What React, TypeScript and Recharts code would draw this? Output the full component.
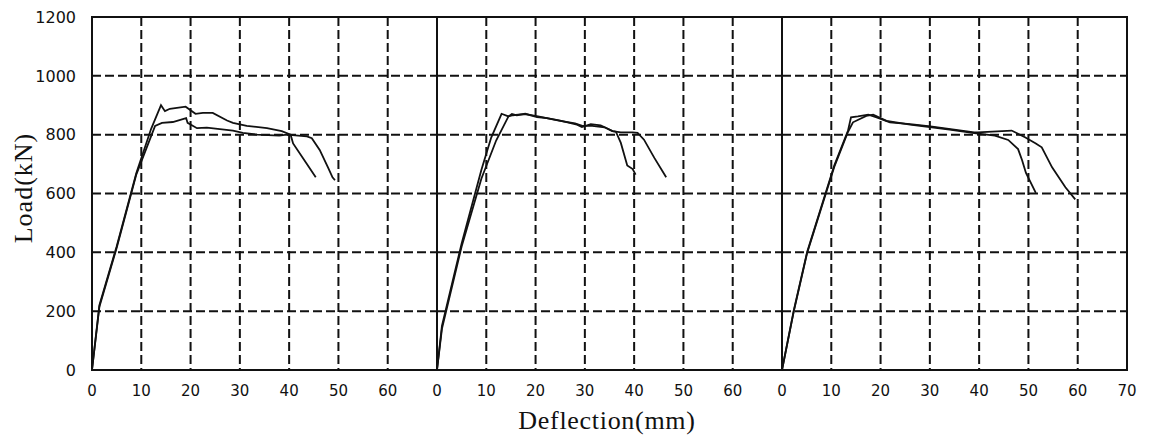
import { LineChart, Line, XAxis, YAxis, CartesianGrid, ReferenceArea } from 'recharts';

type Pt = [number, number];

// deflection (mm), load (kN)
const panel1Upper: Pt[] = [
  [0, 0], [1.5, 220], [5, 420], [9, 670], [12, 820], [14, 900], [14.8, 880], [15.8, 888],
  [19, 895], [21, 871], [22.5, 874], [24.5, 874], [27.4, 848], [28.6, 840], [31.4, 830],
  [35.5, 822], [38.5, 812], [40.3, 800], [40.8, 770], [43.6, 700], [45.4, 655],
];
const panel1Lower: Pt[] = [
  [0, 0], [1.5, 215], [5, 415], [9, 665], [12.8, 830], [14.2, 840], [16.4, 843], [19.1, 856],
  [19.4, 840], [21.3, 822], [23.3, 824], [28.6, 814], [30.6, 806], [33.5, 800], [38, 797],
  [39.5, 800], [43.6, 794], [44.6, 788], [46.2, 748], [47.9, 688], [48.8, 655], [49.3, 645],
];
const panel2Short: Pt[] = [
  [0, 0], [1, 150], [5, 430], [9, 680], [11, 790], [13.1, 871], [14.5, 862], [15.2, 870],
  [16.2, 866], [17.9, 871], [20.3, 860], [22.3, 856], [25, 848], [28.4, 834], [29.4, 826],
  [31.2, 836], [33.2, 832], [35.6, 812], [36.3, 810], [37.3, 772], [38.6, 695], [39.7, 683],
  [40.3, 664],
];
const panel2Long: Pt[] = [
  [0, 0], [1, 140], [5, 420], [9, 650], [12, 780], [14.5, 862], [15.4, 866], [16.5, 868],
  [18, 870], [20.5, 862], [22.5, 855], [25, 847], [28, 838], [29.5, 830], [31.5, 830],
  [34, 825], [35.6, 812], [37.3, 808], [39.7, 808], [40.7, 806], [42, 783], [44.1, 721],
  [46.5, 655],
];
const panel3Long: Pt[] = [
  [0, 0], [2.4, 203], [5.1, 401], [8.9, 604], [10.6, 695], [13.4, 814], [14, 859], [15.4, 862],
  [17.5, 868], [19.2, 859], [21.9, 842], [26, 836], [30.1, 828], [34.2, 819], [39, 808],
  [39.7, 808], [46.6, 814], [49.3, 791], [51.5, 770], [52.7, 757], [54.8, 689], [57.5, 621],
  [59.5, 580],
];
const panel3Short: Pt[] = [
  [0, 0], [2.4, 200], [5.1, 398], [8.9, 600], [10.6, 690], [13.4, 810], [14.4, 842], [17.1, 864],
  [18.5, 868], [21.2, 847], [26, 834], [30, 826], [34, 817], [39, 805], [43.2, 797], [45.9, 782],
  [47.9, 751], [48.7, 714], [49.5, 670], [51.5, 602],
];

const xTicks = [0, 10, 20, 30, 40, 50, 60];
const xTicksLast = [0, 10, 20, 30, 40, 50, 60, 70];
const yTicks = [0, 200, 400, 600, 800, 1000, 1200];

const INK = '#111';
const toRows = (pts: Pt[]) => pts.map(([x, y]) => ({ x, y }));

interface PanelProps {
  left: number;
  width: number;
  margin: { top: number; right: number; bottom: number; left: number };
  curves: Pt[][];
  ticks: number[];
  showY?: boolean;
}

function Panel({ left, width, margin, curves, ticks, showY }: PanelProps) {
  return (
    <div style={{ position: 'absolute', left, top: 0 }}>
      <LineChart width={width} height={445} margin={margin}>
        <CartesianGrid stroke={INK} strokeWidth={2} strokeDasharray="9 4" />
        <XAxis
          type="number"
          dataKey="x"
          domain={[0, 70]}
          ticks={ticks}
          height={30}
          axisLine={false}
          tickLine={false}
          tickSize={6}
          tickMargin={9}
          interval={0}
          tick={{ fill: '#111', fontSize: 15, fontFamily: 'DejaVu Sans' }}
        />
        <YAxis
          type="number"
          domain={[0, 1200]}
          ticks={yTicks}
          hide={!showY}
          width={92}
          axisLine={false}
          tickLine={false}
          tickSize={6}
          tickMargin={10}
          interval={0}
          tick={{ fill: '#111', fontSize: 16, fontFamily: 'DejaVu Sans' }}
        />
        <ReferenceArea x1={0} x2={70} y1={0} y2={1200} fill="none" stroke={INK} strokeWidth={2} />
        {curves.map((c, i) => (
          <Line
            key={i}
            data={toRows(c)}
            dataKey="y"
            type="linear"
            stroke={INK}
            strokeWidth={1.8}
            dot={false}
            isAnimationActive={false}
          />
        ))}
      </LineChart>
    </div>
  );
}

export default function App() {
  return (
    <div style={{ position: 'absolute', left: 0, top: 0, width: 1155, height: 445, background: '#fff' }}>
      <Panel
        left={0}
        width={437}
        margin={{ top: 17, right: 0, bottom: 45, left: 0 }}
        curves={[panel1Upper, panel1Lower]}
        ticks={xTicks}
        showY
      />
      <Panel
        left={417}
        width={365}
        margin={{ top: 17, right: 0, bottom: 45, left: 20 }}
        curves={[panel2Short, panel2Long]}
        ticks={xTicks}
      />
      <Panel
        left={762}
        width={393}
        margin={{ top: 17, right: 28, bottom: 45, left: 20 }}
        curves={[panel3Long, panel3Short]}
        ticks={xTicksLast}
      />
      <div
        style={{
          position: 'absolute',
          left: 24 - 70,
          top: 188 - 15,
          width: 140,
          height: 30,
          lineHeight: '30px',
          textAlign: 'center',
          transform: 'rotate(-90deg)',
          fontFamily: 'Liberation Serif',
          fontSize: 26,
          letterSpacing: 1,
          color: '#111',
          whiteSpace: 'nowrap',
        }}
      >
        Load(kN)
      </div>
      <div
        style={{
          position: 'absolute',
          left: 607 - 120,
          top: 406,
          width: 240,
          textAlign: 'center',
          fontFamily: 'Liberation Serif',
          fontSize: 26,
          letterSpacing: 0.7,
          color: '#111',
          whiteSpace: 'nowrap',
        }}
      >
        Deflection(mm)
      </div>
    </div>
  );
}
